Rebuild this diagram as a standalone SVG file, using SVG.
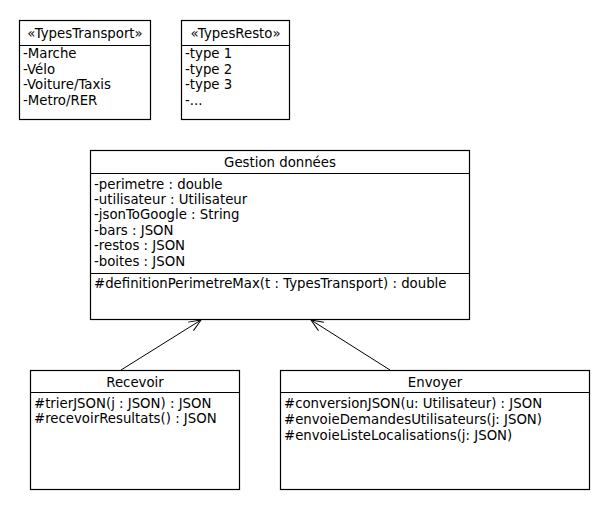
<svg xmlns="http://www.w3.org/2000/svg" width="610" height="510" viewBox="0 0 610 510">
  <style>
    .box { fill: #ffffff; stroke: #000000; stroke-width: 1.2; }
    .sep { stroke: #000000; stroke-width: 1.2; }
    text { font-family: "DejaVu Sans", "Liberation Sans", sans-serif; font-size: 13.3px; fill: #000000; }
    .title { text-anchor: middle; }
    .conn { fill: none; stroke: #000000; stroke-width: 1; }
  </style>
  <defs>
    <marker id="open" markerWidth="14" markerHeight="12" refX="13" refY="6" orient="auto" markerUnits="userSpaceOnUse">
      <path d="M1,1 L13,6 L1,11" fill="none" stroke="#000000" stroke-width="1"/>
    </marker>
  </defs>
  <rect width="610" height="510" fill="#ffffff"/>

  <g id="TypesTransport">
    <rect class="box" x="19.5" y="20.5" width="131" height="99"/>
    <line class="sep" x1="19.5" y1="45.5" x2="150.5" y2="45.5"/>
    <text class="title" x="85" y="38">«TypesTransport»</text>
    <text x="23" y="58">-Marche</text>
    <text x="23" y="74">-Vélo</text>
    <text x="23" y="89">-Voiture/Taxis</text>
    <text x="23" y="105">-Metro/RER</text>
  </g>

  <g id="TypesResto">
    <rect class="box" x="181.5" y="20.5" width="108" height="99"/>
    <line class="sep" x1="181.5" y1="45.5" x2="289.5" y2="45.5"/>
    <text class="title" x="235.5" y="38">«TypesResto»</text>
    <text x="185" y="58">-type 1</text>
    <text x="185" y="74">-type 2</text>
    <text x="185" y="89">-type 3</text>
    <text x="185" y="105">-...</text>
  </g>

  <g id="GestionDonnees">
    <rect class="box" x="90.5" y="150.5" width="379" height="169"/>
    <line class="sep" x1="90.5" y1="173.5" x2="469.5" y2="173.5"/>
    <line class="sep" x1="90.5" y1="273.5" x2="469.5" y2="273.5"/>
    <text class="title" x="280" y="167">Gestion données</text>
    <text x="94" y="189">-perimetre : double</text>
    <text x="94" y="204">-utilisateur : Utilisateur</text>
    <text x="94" y="219">-jsonToGoogle : String</text>
    <text x="94" y="235">-bars : JSON</text>
    <text x="94" y="250">-restos : JSON</text>
    <text x="94" y="266">-boites : JSON</text>
    <text x="94" y="288">#definitionPerimetreMax(t : TypesTransport) : double</text>
  </g>

  <g id="Recevoir">
    <rect class="box" x="30.5" y="370.5" width="209" height="119"/>
    <line class="sep" x1="30.5" y1="392.5" x2="239.5" y2="392.5"/>
    <text class="title" x="135" y="387">Recevoir</text>
    <text x="34" y="408">#trierJSON(j : JSON) : JSON</text>
    <text x="34" y="423">#recevoirResultats() : JSON</text>
  </g>

  <g id="Envoyer">
    <rect class="box" x="280.5" y="370.5" width="309" height="119"/>
    <line class="sep" x1="280.5" y1="392.5" x2="589.5" y2="392.5"/>
    <text class="title" x="435" y="387">Envoyer</text>
    <text x="284" y="408">#conversionJSON(u: Utilisateur) : JSON</text>
    <text x="284" y="424">#envoieDemandesUtilisateurs(j: JSON)</text>
    <text x="284" y="440">#envoieListeLocalisations(j: JSON)</text>
  </g>

  <g id="connectors">
    <line class="conn" x1="121" y1="370" x2="201" y2="320" marker-end="url(#open)"/>
    <line class="conn" x1="390" y1="370" x2="311" y2="320" marker-end="url(#open)"/>
  </g>
</svg>
